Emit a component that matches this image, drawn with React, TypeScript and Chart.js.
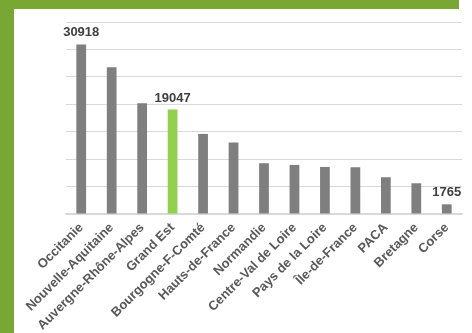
import React, { useEffect, useRef } from "react";
import { Chart, registerables } from "chart.js";

Chart.register(...registerables);

const regions = [
  "Occitanie",
  "Nouvelle-Aquitaine",
  "Auvergne-Rhône-Alpes",
  "Grand Est",
  "Bourgogne-F-Comté",
  "Hauts-de-France",
  "Normandie",
  "Centre-Val de Loire",
  "Pays de la Loire",
  "Île-de-France",
  "PACA",
  "Bretagne",
  "Corse",
];

const values = [30918, 26730, 20210, 19047, 14600, 13030, 9260, 8950, 8580, 8520, 6700, 5600, 1765];

const labelledRegions = ["Occitanie", "Grand Est", "Corse"];
const highlightRegion = "Grand Est";

const yMax = 35000;
const yStep = 5000;

const GREEN = "#79a733";
const GRAY_BAR = "#7f7f7f";
const HIGHLIGHT_BAR = "#92d050";
const FONT = "'Liberation Sans', Arial, sans-serif";

const valueLabelPlugin = {
  id: "valueLabels",
  afterDatasetsDraw(chart: any) {
    const ctx = chart.ctx;
    const meta = chart.getDatasetMeta(0);
    ctx.save();
    ctx.font = `bold 13px ${FONT}`;
    ctx.fillStyle = "#404040";
    ctx.textAlign = "center";
    ctx.textBaseline = "alphabetic";
    regions.forEach((r, i) => {
      if (!labelledRegions.includes(r)) return;
      const bar = meta.data[i];
      ctx.fillText(String(values[i]), bar.x, bar.y - 8);
    });
    ctx.restore();
  },
};

export default function App() {
  const canvasRef = useRef<HTMLCanvasElement | null>(null);

  useEffect(() => {
    if (!canvasRef.current) return;
    const chart = new Chart(canvasRef.current, {
      type: "bar",
      data: {
        labels: regions,
        datasets: [
          {
            data: values,
            backgroundColor: regions.map((r) => (r === highlightRegion ? HIGHLIGHT_BAR : GRAY_BAR)),
            borderWidth: 0,
            barPercentage: 0.32,
            categoryPercentage: 1,
          },
        ],
      },
      options: {
        animation: false,
        responsive: false,
        devicePixelRatio: 1,
        layout: { padding: { top: 13, left: 52, right: 10, bottom: 0 } },
        plugins: {
          legend: { display: false },
          tooltip: { enabled: false },
          title: { display: false },
        },
        scales: {
          y: {
            min: 0,
            max: yMax,
            ticks: { display: false, stepSize: yStep },
            grid: { color: "#d9d9d9", lineWidth: 1, drawTicks: false },
            border: { display: false },
          },
          x: {
            grid: { display: false, drawTicks: false },
            border: { display: true, color: "#d9d9d9", width: 1.5 },
            ticks: {
              autoSkip: false,
              maxRotation: 45,
              minRotation: 45,
              padding: 6,
              color: "#595959",
              font: { family: FONT, size: 13, weight: "bold" },
            },
            afterFit: (scale: any) => {
              scale.height = 119;
            },
          },
        },
      },
      plugins: [valueLabelPlugin],
    });
    return () => chart.destroy();
  }, []);

  return (
    <div
      style={{
        position: "absolute",
        left: 0,
        top: 0,
        width: 472,
        height: 333,
        background: "#ffffff",
        overflow: "hidden",
      }}
    >
      <div style={{ position: "absolute", left: 0, top: 0, width: 14, height: 333, background: GREEN }} />
      <div style={{ position: "absolute", left: 0, top: 0, width: 459, height: 9, background: GREEN }} />
      <canvas
        ref={canvasRef}
        width={458}
        height={324}
        style={{ position: "absolute", left: 14, top: 9, width: 458, height: 324 }}
      />
    </div>
  );
}
